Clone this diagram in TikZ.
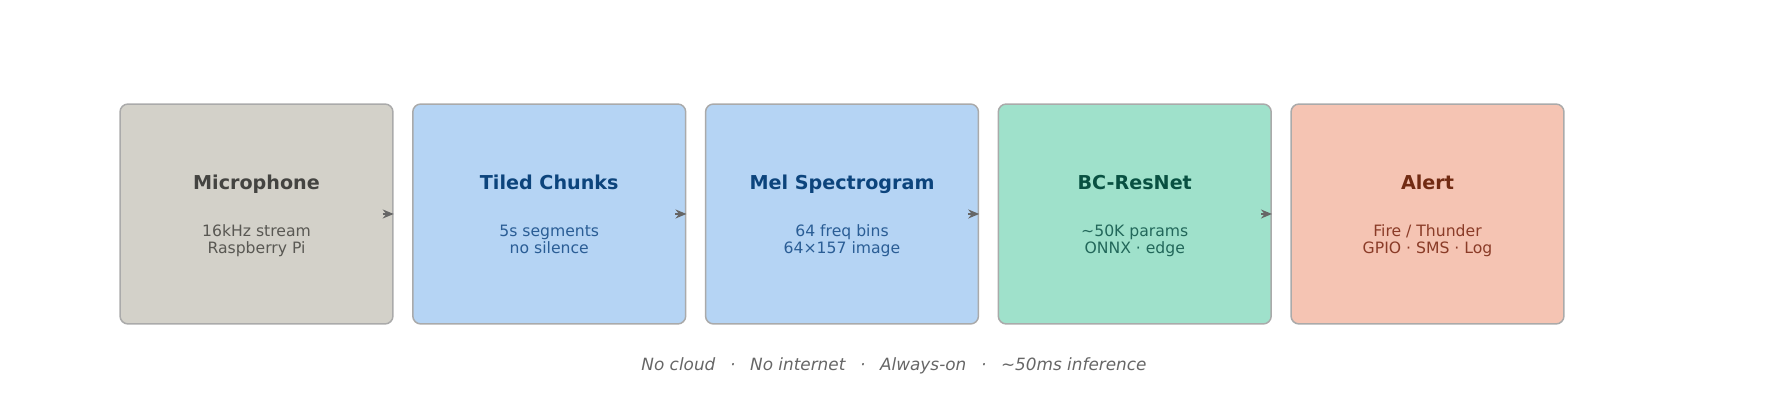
\documentclass[tikz,border=0pt]{standalone}
\usepackage{fontspec}
\setmainfont{DejaVu Sans}
\usepackage{xcolor}
\usetikzlibrary{arrows.meta}

\definecolor{boxline}{HTML}{AAAAAA}
\definecolor{arrowgray}{HTML}{666666}
\definecolor{micfill}{HTML}{D3D1C9}
\definecolor{mictitle}{HTML}{444441}
\definecolor{mictext}{HTML}{595853}
\definecolor{bluefill}{HTML}{B5D4F4}
\definecolor{bluetitle}{HTML}{0C447C}
\definecolor{bluetext}{HTML}{2A5D95}
\definecolor{tealfill}{HTML}{9FE1CB}
\definecolor{tealtitle}{HTML}{085041}
\definecolor{tealtext}{HTML}{22675A}
\definecolor{coralfill}{HTML}{F5C4B3}
\definecolor{coraltitle}{HTML}{712B13}
\definecolor{coraltext}{HTML}{8A3B27}

\tikzset{
	box/.style = {draw = boxline, line width = 0.85pt, rounded corners = 0.16cm, minimum width = 5.46cm, minimum height = 4.4cm, inner sep = 0},
	boxtitle/.style = {font = \fontsize{10.9}{12}\selectfont\bfseries, anchor = base, inner sep = 0},
	boxtext/.style = {font = \fontsize{8.9}{9.8}\selectfont, align = center, anchor = base, inner sep = 0},
	arr/.style = {-{Stealth[length = 0.22cm, width = 0.18cm]}, line width = 1pt, arrowgray}
}

\begin{document}
\begin{tikzpicture}[x = 0.02cm, y = 0.02cm]
	\useasboundingbox (0,0) rectangle (1785,404);

	\node [box, fill = micfill] (mic) at (256.5,190) {};
	\node [box, fill = bluefill] (chunks) at (549.25,190) {};
	\node [box, fill = bluefill] (mel) at (842,190) {};
	\node [box, fill = tealfill] (resnet) at (1134.75,190) {};
	\node [box, fill = coralfill] (alert) at (1427.5,190) {};

	\node [boxtitle, mictitle] (mic-title) at ([yshift = 0.48cm]mic.center) {Microphone};
	\node [boxtext, mictext] (mic-text) at ([yshift = -0.8cm]mic.center) {16kHz stream\\Raspberry Pi};

	\node [boxtitle, bluetitle] (chunks-title) at ([yshift = 0.48cm]chunks.center) {Tiled Chunks};
	\node [boxtext, bluetext] (chunks-text) at ([yshift = -0.8cm]chunks.center) {5s segments\\no silence};

	\node [boxtitle, bluetitle] (mel-title) at ([yshift = 0.48cm]mel.center) {Mel Spectrogram};
	\node [boxtext, bluetext] (mel-text) at ([yshift = -0.8cm]mel.center) {64 freq bins\\64×157 image};

	\node [boxtitle, tealtitle] (resnet-title) at ([yshift = 0.48cm]resnet.center) {BC-ResNet};
	\node [boxtext, tealtext] (resnet-text) at ([yshift = -0.8cm]resnet.center) {\textasciitilde50K params\\ONNX · edge};

	\node [boxtitle, coraltitle] (alert-title) at ([yshift = 0.48cm]alert.center) {Alert};
	\node [boxtext, coraltext] (alert-text) at ([yshift = -0.8cm]alert.center) {Fire / Thunder\\GPIO · SMS · Log};

	\begin{scope}[arr]
		\draw ([xshift = -0.22cm]mic.east) -- (mic.east);
		\draw ([xshift = -0.22cm]chunks.east) -- (chunks.east);
		\draw ([xshift = -0.22cm]mel.east) -- (mel.east);
		\draw ([xshift = -0.22cm]resnet.east) -- (resnet.east);
	\end{scope}

	\node [font = \fontsize{9.6}{11}\selectfont\itshape, arrowgray, anchor = base, inner sep = 0] (footer) at (894,33) {No cloud\hspace{0.87em}·\hspace{0.87em}No internet\hspace{0.87em}·\hspace{0.87em}Always-on\hspace{0.87em}·\hspace{0.87em}\textasciitilde50ms inference};
\end{tikzpicture}
\end{document}
